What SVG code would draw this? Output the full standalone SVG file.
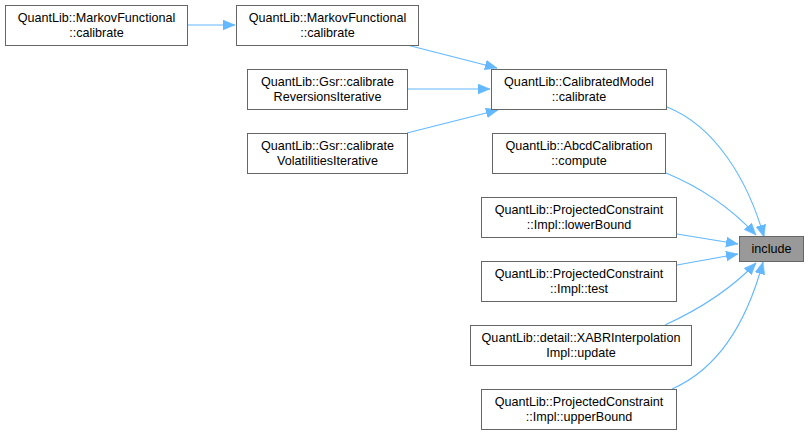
<svg xmlns="http://www.w3.org/2000/svg" width="808" height="435" viewBox="0 0 808 435">
<style>
.n rect{fill:#ffffff;stroke:#666666;stroke-width:1}
.n.h rect{fill:#999999}
.n text{font-family:"Liberation Sans",Arial,sans-serif;font-size:12.6px;fill:#000000;text-anchor:middle}
.e path{fill:none;stroke:#63b8ff;stroke-width:1.1}
</style>
<defs>
<marker id="ah" markerUnits="userSpaceOnUse" markerWidth="13" markerHeight="11" refX="12" refY="5" orient="auto">
<path d="M0,0 L12,5 L0,10 z" fill="#63b8ff" stroke="#63b8ff" stroke-width="0.5"/>
</marker>
</defs>
<rect x="0" y="0" width="808" height="435" fill="#ffffff"/>
<g id="connectors" class="e">
<path d="M188,25 L235,25" marker-end="url(#ah)"/>
<path d="M407,45 L497,68" marker-end="url(#ah)"/>
<path d="M407,89 L490,89" marker-end="url(#ah)"/>
<path d="M407,133 L498,110" marker-end="url(#ah)"/>
<path d="M667,107 C715,126 748,180 764,237" marker-end="url(#ah)"/>
<path d="M666,173 C700,187 730,207 756,235" marker-end="url(#ah)"/>
<path d="M677,234 L738,244" marker-end="url(#ah)"/>
<path d="M677,265 L738,254" marker-end="url(#ah)"/>
<path d="M665,325 C700,309 730,290 756,263" marker-end="url(#ah)"/>
<path d="M672,389 C720,368 748,318 763,262" marker-end="url(#ah)"/>
</g>
<g id="node_mf1" class="n">
<rect x="5.5" y="5.5" width="182" height="40"/>
<text x="96.5" y="22">QuantLib::MarkovFunctional</text>
<text x="96.5" y="36.5">::calibrate</text>
</g>
<g id="node_mf2" class="n">
<rect x="236.5" y="5.5" width="182" height="40"/>
<text x="327.5" y="22">QuantLib::MarkovFunctional</text>
<text x="327.5" y="36.5">::calibrate</text>
</g>
<g id="node_gsr_rev" class="n">
<rect x="247.5" y="69.5" width="160" height="40"/>
<text x="327.5" y="86">QuantLib::Gsr::calibrate</text>
<text x="327.5" y="100.5">ReversionsIterative</text>
</g>
<g id="node_gsr_vol" class="n">
<rect x="247.5" y="133.5" width="160" height="40"/>
<text x="327.5" y="150">QuantLib::Gsr::calibrate</text>
<text x="327.5" y="164.5">VolatilitiesIterative</text>
</g>
<g id="node_calibrated" class="n">
<rect x="491.5" y="69.5" width="175" height="40"/>
<text x="579" y="86">QuantLib::CalibratedModel</text>
<text x="579" y="100.5">::calibrate</text>
</g>
<g id="node_abcd" class="n">
<rect x="492.5" y="133.5" width="173" height="40"/>
<text x="579" y="150">QuantLib::AbcdCalibration</text>
<text x="579" y="164.5">::compute</text>
</g>
<g id="node_lower" class="n">
<rect x="481.5" y="197.5" width="195" height="40"/>
<text x="579" y="214">QuantLib::ProjectedConstraint</text>
<text x="579" y="228.5">::Impl::lowerBound</text>
</g>
<g id="node_test" class="n">
<rect x="481.5" y="261.5" width="195" height="40"/>
<text x="579" y="278">QuantLib::ProjectedConstraint</text>
<text x="579" y="292.5">::Impl::test</text>
</g>
<g id="node_xabr" class="n">
<rect x="470.5" y="325.5" width="221" height="40"/>
<text x="581" y="342">QuantLib::detail::XABRInterpolation</text>
<text x="581" y="356.5">Impl::update</text>
</g>
<g id="node_upper" class="n">
<rect x="481.5" y="389.5" width="195" height="40"/>
<text x="579" y="406">QuantLib::ProjectedConstraint</text>
<text x="579" y="420.5">::Impl::upperBound</text>
</g>
<g id="node_include" class="n h">
<rect x="739.5" y="236.5" width="64" height="25"/>
<text x="771.5" y="253">include</text>
</g>
</svg>
